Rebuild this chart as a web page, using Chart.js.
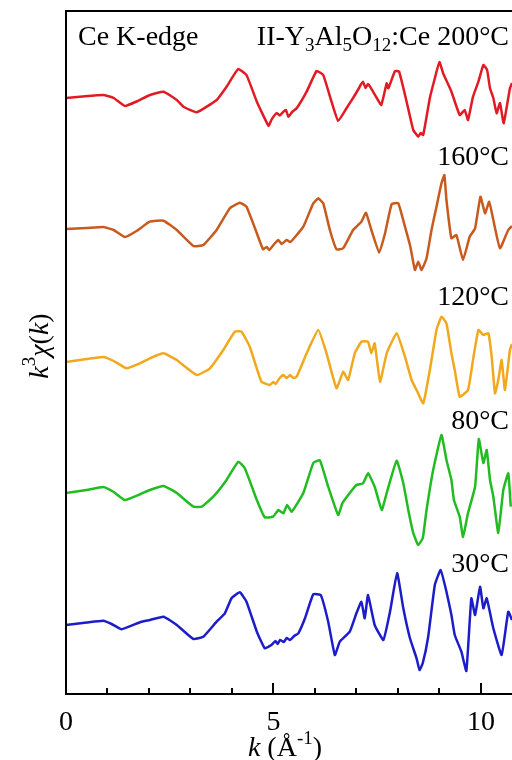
<!DOCTYPE html>
<html>
<head>
<meta charset="utf-8">
<script src="https://cdn.jsdelivr.net/npm/chart.js@4.4.1/dist/chart.umd.min.js"></script>
<style>
html, body { margin: 0; padding: 0; background: #fff; overflow: hidden; }
#wrap { width: 512px; height: 760px; }
</style>
</head>
<body>
<div id="wrap"><canvas id="myChart"></canvas></div>
<script>
// k (1/A) and k^3 chi(k), each curve relative to its own baseline
var redK = [0, 0.4, 0.9, 1.15, 1.42, 1.7, 2.02, 2.35, 2.67, 2.83, 3.15, 3.63, 3.87, 4.15, 4.35, 4.6, 4.88, 4.95, 5.0, 5.08, 5.15, 5.24, 5.3, 5.36, 5.45, 5.56, 5.8, 6.04, 6.2, 6.4, 6.56, 6.76, 6.92, 7.05, 7.1, 7.16, 7.22, 7.28, 7.33, 7.49, 7.6, 7.73, 7.77, 7.93, 8.03, 8.21, 8.37, 8.49, 8.55, 8.61, 8.77, 8.89, 9.0, 9.09, 9.29, 9.49, 9.61, 9.69, 9.81, 9.94, 10.06, 10.15, 10.22, 10.3, 10.38, 10.46, 10.55, 10.7, 10.75];
var redV = [0, 0.15, 0.3, 0.0, -0.8, -0.35, 0.3, 0.63, -0.2, -0.87, -1.43, -0.2, 1.13, 2.9, 2.3, -0.37, -2.77, -2.2, -1.87, -1.5, -1.75, -1.37, -1.2, -1.87, -1.4, -1.03, 0.63, 2.7, 2.3, -0.37, -2.3, -1.03, 0, 0.9, 1.3, 1.63, 1.0, 1.4, 1.13, 0, -0.7, 1.47, 0.97, 2.7, 2.63, -0.37, -3.2, -3.87, -3.5, -3.7, 0, 1.97, 3.6, 2.47, 0.63, -1.7, -1.2, -2.2, 0.13, 1.63, 3.3, 2.8, 0.97, 0, -1.53, -0.5, -2.53, 0.97, 1.5];

var orangeK = [0, 0.5, 0.9, 1.15, 1.42, 1.7, 2.02, 2.35, 2.67, 3.07, 3.31, 3.63, 3.95, 4.19, 4.35, 4.6, 4.75, 4.84, 4.9, 5.04, 5.12, 5.2, 5.32, 5.4, 5.48, 5.72, 5.96, 6.08, 6.2, 6.36, 6.52, 6.68, 6.92, 7.12, 7.23, 7.36, 7.55, 7.69, 7.85, 8.01, 8.17, 8.3, 8.41, 8.49, 8.57, 8.69, 8.81, 8.93, 9.05, 9.12, 9.17, 9.29, 9.41, 9.57, 9.73, 9.86, 9.99, 10.1, 10.2, 10.3, 10.46, 10.66, 10.75];
var orangeV = [0, 0.1, 0.2, -0.1, -0.8, -0.2, 0.73, 0.83, -0.1, -1.7, -1.6, -0.1, 2.07, 2.63, 2.23, -0.43, -2.03, -1.8, -2.1, -1.4, -1.1, -1.5, -1.1, -1.3, -1.0, 0.23, 2.57, 3.07, 2.57, -0.1, -2.03, -1.93, -0.1, 0.73, 1.63, -0.1, -2.37, -0.43, 2.5, 2.57, 0.23, -1.77, -4.1, -3.27, -4.1, -2.93, -0.1, 2.23, 4.57, 5.4, 2.9, -0.93, -0.6, -3.1, -0.77, 0.07, 3.23, 1.57, 2.73, 0.9, -1.93, -0.1, 0.3];

var yellowK = [0, 0.5, 0.9, 1.15, 1.46, 1.8, 2.02, 2.35, 2.67, 3.15, 3.47, 3.79, 4.07, 4.23, 4.43, 4.71, 4.91, 5.0, 5.05, 5.15, 5.24, 5.32, 5.4, 5.48, 5.56, 5.8, 6.08, 6.28, 6.52, 6.68, 6.8, 6.96, 7.12, 7.28, 7.36, 7.44, 7.57, 7.73, 7.97, 8.17, 8.33, 8.45, 8.61, 8.77, 8.93, 9.05, 9.17, 9.29, 9.37, 9.49, 9.69, 9.81, 9.94, 10.06, 10.18, 10.26, 10.34, 10.42, 10.5, 10.58, 10.7, 10.75];
var yellowV = [0, 0.3, 0.5, 0.1, -0.63, -0.1, 0.37, 0.87, 0.2, -1.3, -0.63, 1.2, 3.03, 3.03, 1.53, -1.97, -2.3, -2.0, -2.2, -1.6, -1.3, -1.6, -1.3, -1.6, -1.47, 0.87, 3.2, 0.87, -2.63, -0.97, -1.8, 0.87, 2.03, 2.03, 0.87, 1.87, -1.97, 0.87, 2.87, 0.53, -1.8, -2.8, -4.13, -0.8, 3.2, 4.53, 3.87, 0.87, -0.8, -3.47, -2.8, 0.2, 3.2, 2.7, 2.87, 0.53, -3.13, -1.8, 0.2, -2.8, 1.2, 1.8];

var greenK = [0, 0.5, 0.9, 1.15, 1.42, 1.8, 2.02, 2.35, 2.67, 3.07, 3.27, 3.55, 3.87, 4.15, 4.31, 4.6, 4.79, 4.99, 5.12, 5.24, 5.33, 5.44, 5.72, 5.96, 6.12, 6.32, 6.56, 6.66, 6.84, 7.0, 7.16, 7.28, 7.44, 7.61, 7.73, 7.97, 8.13, 8.25, 8.37, 8.49, 8.6, 8.69, 8.85, 9.05, 9.17, 9.29, 9.35, 9.49, 9.57, 9.69, 9.86, 9.95, 10.06, 10.14, 10.22, 10.3, 10.42, 10.54, 10.66, 10.72];
var greenV = [0, 0.3, 0.6, 0.1, -0.7, -0.1, 0.3, 0.7, 0, -1.37, -1.37, -0.37, 1.3, 3.13, 2.47, -0.7, -2.43, -2.37, -1.7, -2.03, -1.2, -1.87, 0, 3.0, 3.27, 0.63, -2.2, -1.03, 0, 0.8, 0.97, 1.97, 0.63, -1.7, 0, 3.23, 0.97, -1.7, -4.0, -5.2, -4.5, -1.7, 2.3, 5.8, 3.3, 1.3, -0.7, -2.37, -4.4, -2.0, 0.63, 5.4, 3.0, 4.3, 1.3, -0.37, -4.0, 0.3, 1.97, -1.37];

var blueK = [0, 0.5, 0.9, 1.1, 1.34, 1.8, 2.02, 2.35, 2.67, 3.07, 3.31, 3.63, 3.83, 3.99, 4.19, 4.35, 4.6, 4.79, 4.95, 5.05, 5.1, 5.16, 5.25, 5.32, 5.4, 5.5, 5.6, 5.76, 5.96, 6.14, 6.32, 6.48, 6.6, 6.84, 7.0, 7.12, 7.2, 7.28, 7.44, 7.65, 7.81, 7.98, 8.13, 8.29, 8.45, 8.52, 8.6, 8.73, 8.89, 9.03, 9.17, 9.29, 9.37, 9.53, 9.65, 9.77, 9.86, 9.98, 10.06, 10.14, 10.3, 10.5, 10.66, 10.75];
var blueV = [0, 0.25, 0.43, 0.1, -0.43, 0.3, 0.5, 0.83, 0, -1.4, -1.17, 0.33, 1.17, 2.67, 3.27, 2.33, -0.67, -2.33, -2.0, -1.6, -1.9, -1.5, -1.7, -1.3, -1.5, -1.1, -0.83, 0.67, 3.07, 3.0, 0.33, -3.0, -1.67, -0.67, 1.17, 2.33, 0.67, 3.0, 0, -1.5, 1.33, 5.2, 1.67, -1.33, -3.33, -4.5, -3.8, -1.17, 4.0, 5.5, 3.33, 1.0, -1.0, -2.67, -4.6, 2.67, 1.0, 3.83, 1.67, 2.67, -0.33, -3.0, 1.33, 0.5];

// vertical shift of each curve, bottom to top
var temps = ['30°C', '80°C', '120°C', '160°C', '200°C'];
var offsets = [0, 13.2, 26.3, 39.6, 52.7];
var colors = ['#1c1cc8', '#22bb22', '#f2a81d', '#c85a1e', '#e01b24'];
var xTicks = [0, 1, 2, 3, 4, 5, 6, 7, 8, 9, 10];

var SERIF = "'Liberation Serif', 'Times New Roman', serif";

function makeData(ks, vs, off) {
    return ks.map(function (k, i) { return { x: k, y: vs[i] + off }; });
}

var series = [[blueK, blueV], [greenK, greenV], [yellowK, yellowV], [orangeK, orangeV], [redK, redV]];
var datasets = series.map(function (s, i) {
    return {
        label: temps[i],
        data: makeData(s[0], s[1], offsets[i]),
        borderColor: colors[i],
        borderWidth: 2.5,
        pointRadius: 0,
        tension: 0.12,
        fill: false
    };
});

// draws text made of pieces with different fonts / shifts
function richText(ctx, parts, x, y, align) {
    var w = 0;
    parts.forEach(function (p) { ctx.font = p.font; w += ctx.measureText(p.t).width; });
    var cx = align === 'right' ? x - w : (align === 'center' ? x - w / 2 : x);
    ctx.textAlign = 'left';
    ctx.textBaseline = 'alphabetic';
    parts.forEach(function (p) {
        ctx.font = p.font;
        ctx.fillText(p.t, cx, y + (p.dy || 0));
        cx += ctx.measureText(p.t).width;
    });
}

var N = '28px ' + SERIF, I = 'italic 28px ' + SERIF, S = '19px ' + SERIF;

var decor = {
    id: 'decor',
    afterDraw: function (chart) {
        var ctx = chart.ctx, a = chart.chartArea, xs = chart.scales.x, ys = chart.scales.y;
        ctx.save();
        ctx.strokeStyle = '#000';
        ctx.lineWidth = 2;
        ctx.beginPath();
        ctx.moveTo(a.left, a.bottom);
        ctx.lineTo(a.left, a.top);
        ctx.lineTo(a.right + 2, a.top);
        ctx.moveTo(a.left - 1, a.bottom);
        ctx.lineTo(a.right + 2, a.bottom);
        xTicks.forEach(function (k) {
            if (k === 0) return;
            var px = Math.round(xs.getPixelForValue(k));
            ctx.moveTo(px, a.bottom);
            ctx.lineTo(px, a.bottom - (k % 5 === 0 ? 11 : 6));
        });
        ctx.stroke();

        ctx.fillStyle = '#000';
        richText(ctx, [{ t: 'Ce K-edge', font: N }], a.left + 12, a.top + 34, 'left');
        richText(ctx, [
            { t: 'II-Y', font: N }, { t: '3', font: S, dy: 6 },
            { t: 'Al', font: N }, { t: '5', font: S, dy: 6 },
            { t: 'O', font: N }, { t: '12', font: S, dy: 6 },
            { t: ':Ce 200°C', font: N }
        ], a.right - 3, a.top + 34, 'right');

        var gaps = [5.3, 6.4, 5.7, 6.4];
        for (var i = 0; i < 4; i++) {
            richText(ctx, [{ t: temps[i], font: N }], a.right - 3, ys.getPixelForValue(offsets[i] + gaps[i]), 'right');
        }

        richText(ctx, [
            { t: 'k', font: I }, { t: ' (Å', font: N }, { t: '-1', font: S, dy: -12 }, { t: ')', font: N }
        ], 285, 756, 'center');

        ctx.translate(48, 346);
        ctx.rotate(-Math.PI / 2);
        richText(ctx, [
            { t: 'k', font: I }, { t: '3', font: S, dy: -13 }, { t: 'χ', font: I },
            { t: '(', font: N }, { t: 'k', font: I }, { t: ')', font: N }
        ], 0, 0, 'center');
        ctx.restore();
    }
};

var ctx = document.getElementById('myChart').getContext('2d');
var myChart = new Chart(ctx, {
    type: 'line',
    data: { datasets: datasets },
    options: {
        responsive: true,
        maintainAspectRatio: false,
        animation: false,
        layout: { padding: { left: 66, top: 11, right: 0, bottom: 0 } },
        plugins: { legend: { display: false }, tooltip: { enabled: false } },
        scales: {
            x: {
                type: 'linear',
                min: 0,
                max: 10.75,
                grid: { display: false, drawTicks: false },
                border: { display: false },
                afterBuildTicks: function (s) {
                    s.ticks = xTicks.map(function (v) { return { value: v }; });
                },
                ticks: {
                    autoSkip: false,
                    maxRotation: 0,
                    padding: 12,
                    color: '#000',
                    font: { family: SERIF, size: 28 },
                    callback: function (v) { return v % 5 === 0 ? v : ''; }
                },
                afterFit: function (s) {
                    s.height = 66;
                    s.paddingLeft = 0;
                    s.paddingRight = 0;
                }
            },
            y: { display: false, min: -6.9, max: 61.4 }
        }
    },
    plugins: [decor]
});
</script>
</body>
</html>
